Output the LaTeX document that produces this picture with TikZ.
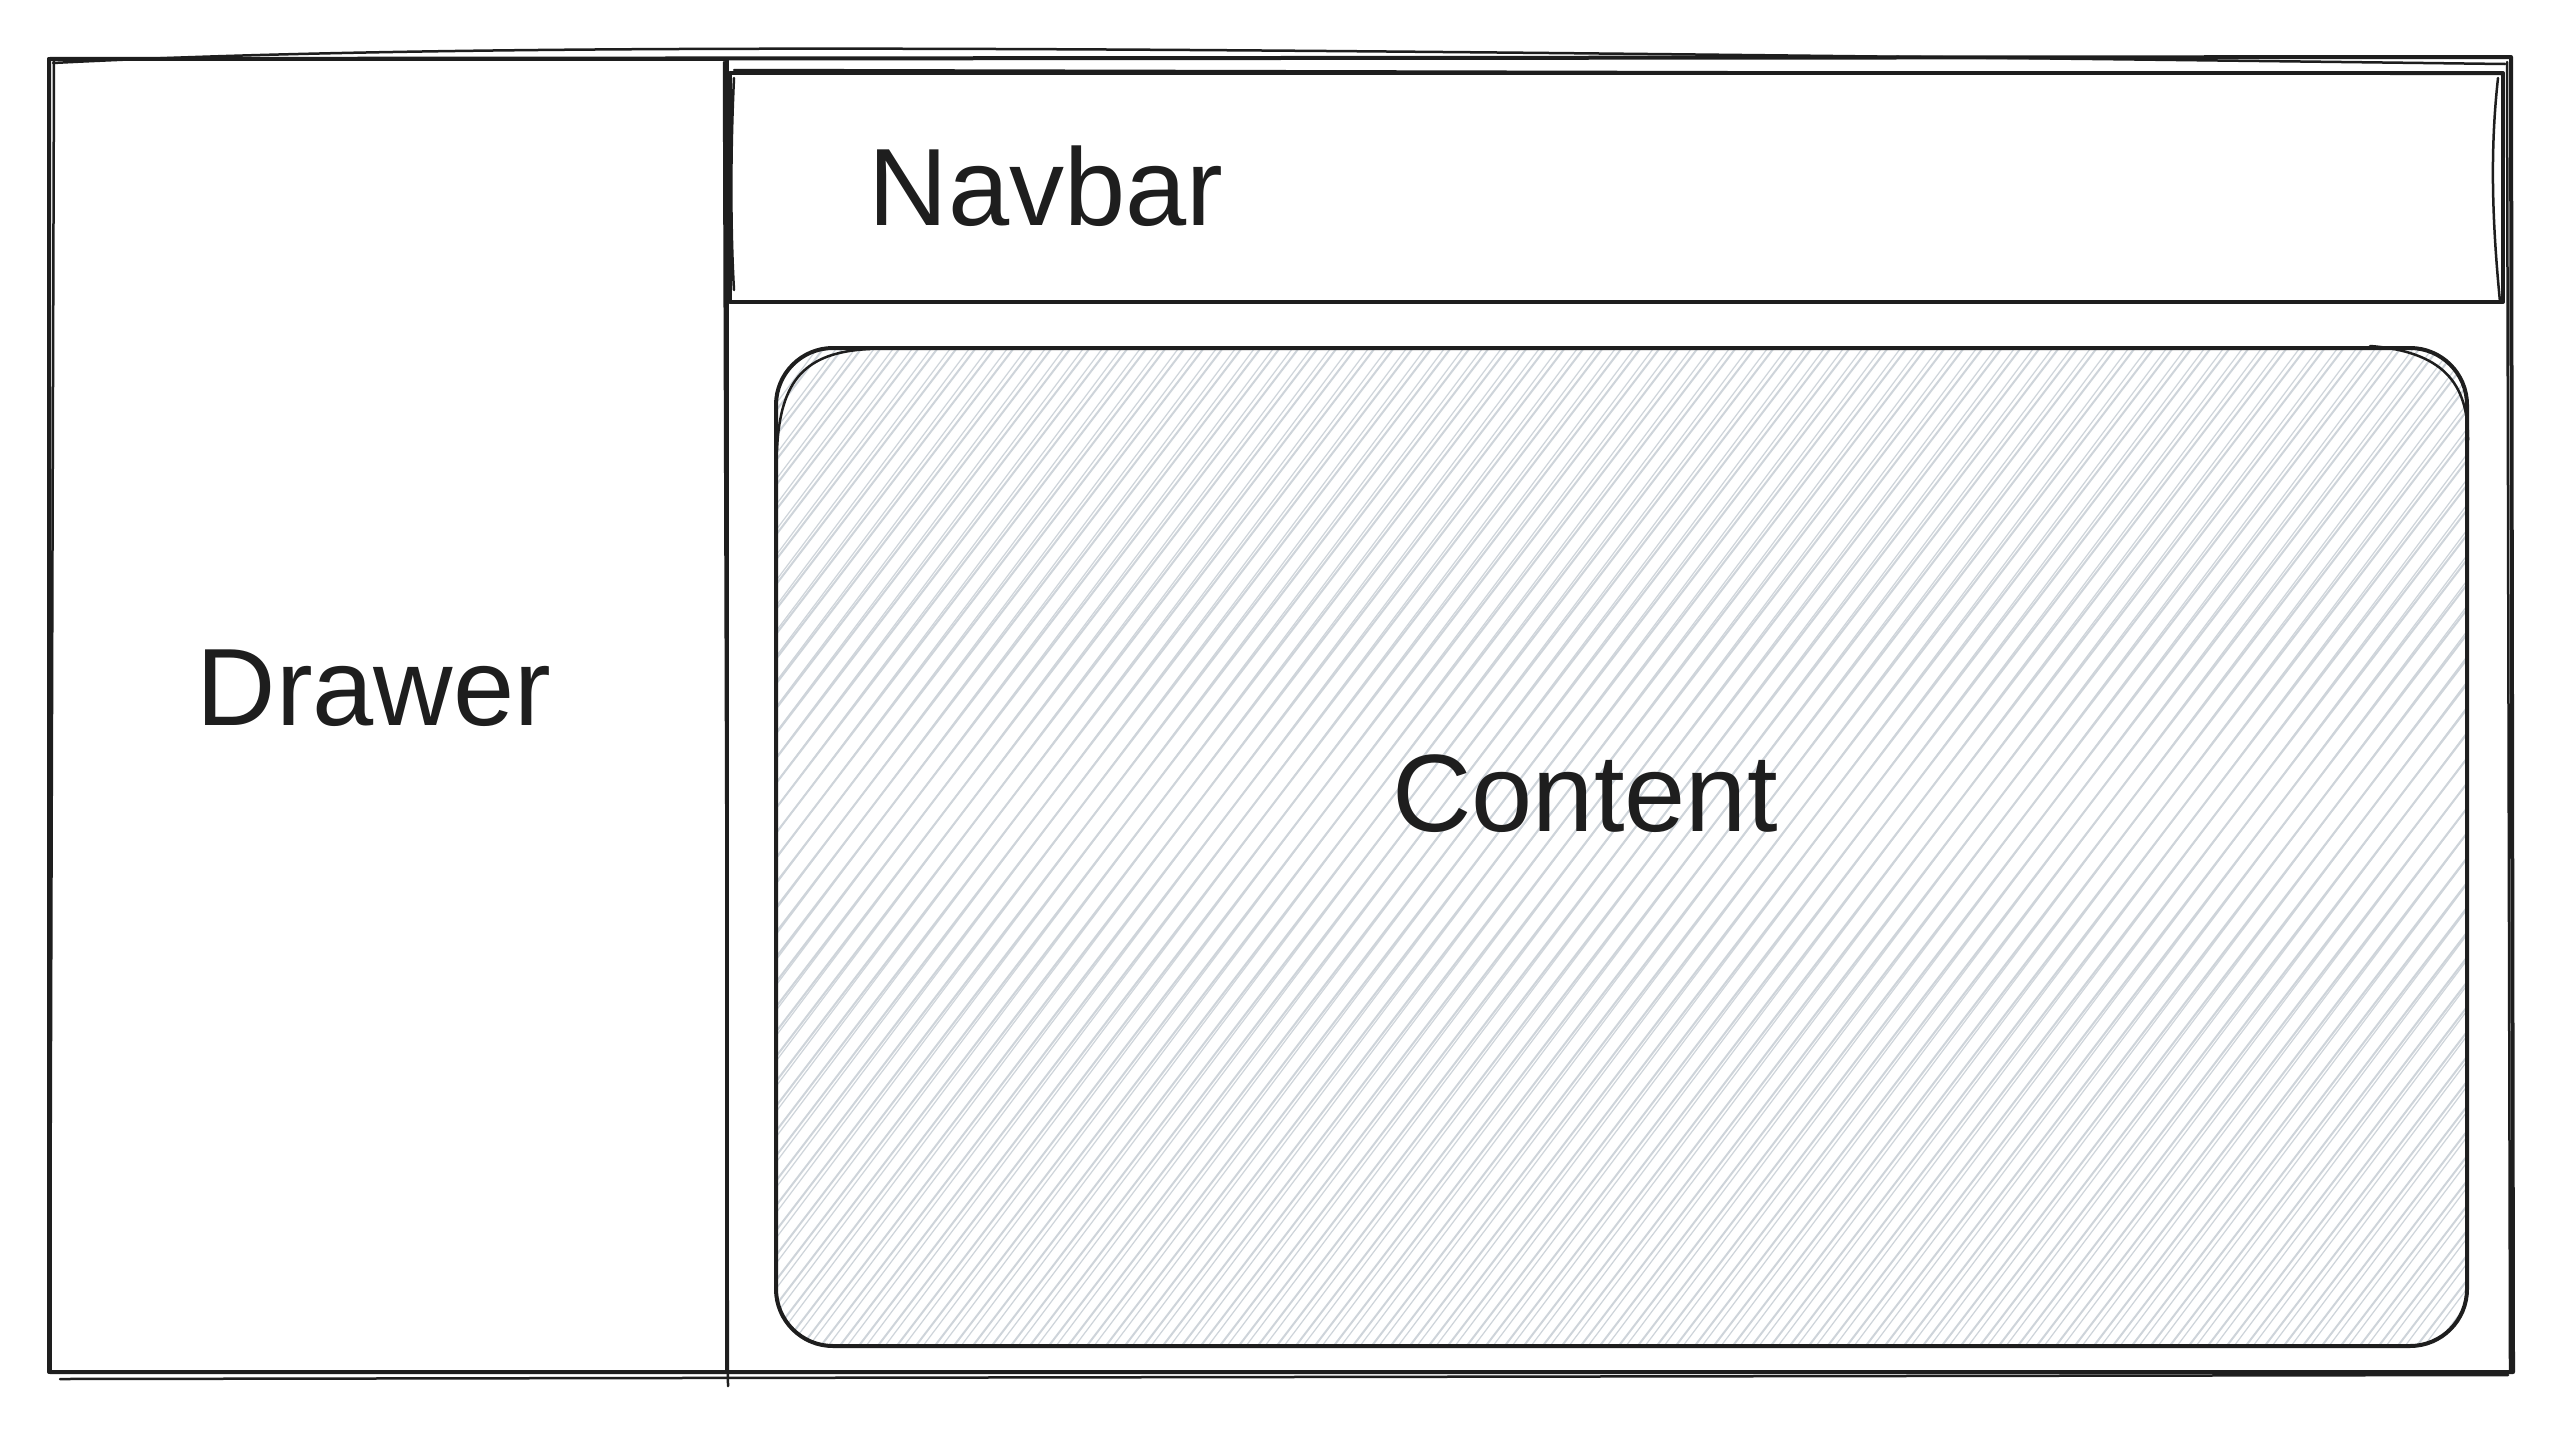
\documentclass[tikz,border=0pt]{standalone}
\usepackage{fontspec}
\setmainfont{Liberation Sans}
\definecolor{ink}{HTML}{1E1E1E}
\definecolor{hatchgray}{HTML}{CED4DA}
\tikzset{
  stroke/.style={draw=ink, line width=4pt, line cap=round, line join=round},
  thin stroke/.style={draw=ink, line width=2.5pt, line cap=round, line join=round},
  hatchline/.style={draw=hatchgray, line width=2pt},
  label/.style={text=ink, font=\fontsize{110}{120}\selectfont, inner sep=0pt},
}
\begin{document}
\begin{tikzpicture}[x=1pt,y=-1pt]
\useasboundingbox[fill=white] (0,0) rectangle (2562,1440);
% hatch fill of content
\begin{scope}
  \clip[rounded corners=57pt] (776,348) rectangle (2467,1346);
  \foreach \i in {-140,-121,...,2480} {
    \draw[hatchline] (\i,1360) -- ++(780,-1020);
  }
  \foreach \i in {-134,-115,...,2480} {
    \draw[hatchline, line width=1.2pt] (\i,1362) -- ++(770,-1025);
  }
\end{scope}
% outer frame
\draw[stroke] (49,59) -- (2511,57) -- (2513,1372) -- (50,1372) -- cycle;
\draw[thin stroke] (53,63) .. controls (500,40) and (1200,48) .. (2505,64);
\draw[thin stroke] (2507,62) -- (2510,1372);
\draw[thin stroke] (60,1379) -- (2508,1375);
\draw[thin stroke] (54,60) -- (50,1368);
% drawer
\node[stroke, minimum width=678pt, minimum height=1313pt, inner sep=0pt] (drawer) at (388,715.5) {};
\draw[thin stroke] (724,62) -- (728,1386);
\node[label] (drawerText) at (374,688) {Drawer};
% navbar
\node[stroke, minimum width=1773pt, minimum height=229pt, inner sep=0pt] (navbar) at (1616.5,187.5) {};
\draw[thin stroke] (734,70) -- (2501,74);
\draw[thin stroke] (2498,78) .. controls (2490,150) and (2492,220) .. (2500,302);
\draw[thin stroke] (734,78) .. controls (730,160) and (731,240) .. (734,290);
\node[label] (navbarText) at (1046,186) {Navbar};
% content
\node[stroke, rounded corners=57pt, minimum width=1691pt, minimum height=998pt, inner sep=0pt] (content) at (1621.5,847) {};
\draw[thin stroke] (2370,346) .. controls (2450,352) and (2468,390) .. (2468,440);
\draw[thin stroke] (870,349) .. controls (805,352) and (780,380) .. (777,450);
\node[label] (contentText) at (1585,794) {Content};
\end{tikzpicture}
\end{document}
